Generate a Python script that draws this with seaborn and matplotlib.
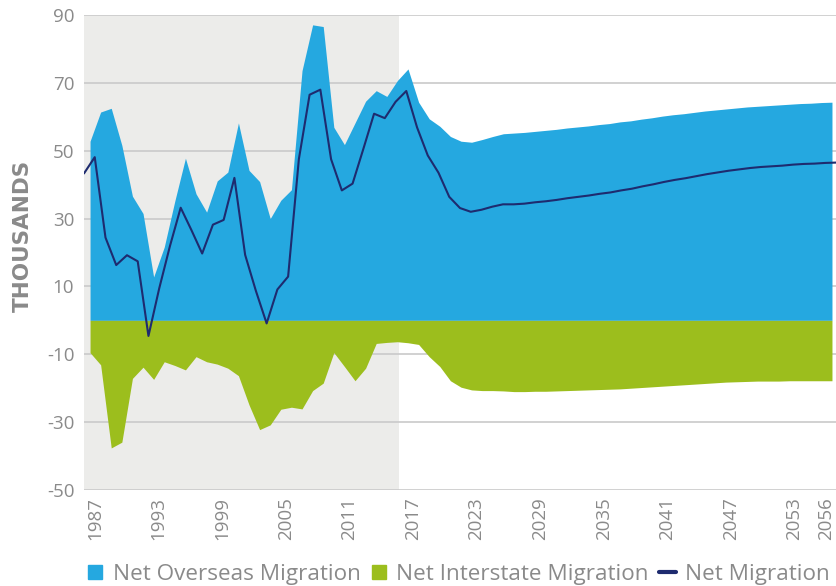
import matplotlib
matplotlib.use("Agg")
import matplotlib.pyplot as plt
import seaborn as sns
import pandas as pd
import numpy as np
from matplotlib.lines import Line2D

# ---------------- data (thousands) ----------------
years = list(range(1987, 2058))

overseas = [52.8, 61.4, 62.5, 51.6, 36.6, 31.5, 12.8, 21.6, 35.2, 47.8,
            37.3, 31.9, 41.1, 43.7, 58.2, 44.2, 40.9, 30.0, 35.4, 38.5,
            73.6, 87.1, 86.6, 56.9, 51.8, 58.2, 64.6, 67.7, 66.0, 70.7,
            74.1, 64.3, 59.4, 57.2, 54.2, 52.8,
            52.5, 53.3, 54.2, 55.0, 55.2, 55.4, 55.7, 56.0, 56.3, 56.7,
            57.0, 57.3, 57.7, 58.0, 58.5, 58.8, 59.3, 59.7, 60.2, 60.6,
            60.9, 61.3, 61.7, 62.0, 62.3, 62.6, 62.9, 63.1, 63.3, 63.5,
            63.7, 63.9, 64.0, 64.2, 64.3]

interstate = [-9.5, -13.1, -37.6, -35.9, -17.1, -13.8, -17.4, -12.2, -13.3, -14.6,
              -10.7, -12.2, -12.9, -14.1, -16.3, -24.9, -32.2, -30.8, -26.2, -25.6,
              -26.1, -20.7, -18.5, -9.5, -13.6, -17.8, -14.1, -6.8, -6.5, -6.3,
              -6.6, -7.1, -10.7, -13.6, -17.8, -19.7,
              -20.5, -20.7, -20.7, -20.8, -21.0, -21.0, -20.9, -20.9, -20.8, -20.7,
              -20.6, -20.5, -20.4, -20.3, -20.2, -20.0, -19.8, -19.6, -19.4, -19.2,
              -19.0, -18.8, -18.6, -18.4, -18.2, -18.1, -18.0, -17.9, -17.9, -17.9,
              -17.8, -17.8, -17.8, -17.8, -17.8]

net = [43.3, 48.1, 24.4, 16.3, 19.2, 17.4, -4.6, 9.4, 21.9, 33.2,
       26.6, 19.7, 28.2, 29.6, 42.0, 19.3, 8.7, -0.9, 9.1, 12.9,
       47.5, 66.5, 68.0, 47.5, 38.3, 40.3, 50.5, 60.9, 59.6, 64.4,
       67.6, 56.9, 48.6, 43.5, 36.4, 33.1,
       32.0, 32.6, 33.5, 34.2, 34.2, 34.4, 34.8, 35.1, 35.5, 36.0,
       36.4, 36.8, 37.3, 37.7, 38.3, 38.8, 39.5, 40.1, 40.8, 41.4,
       41.9, 42.5, 43.1, 43.6, 44.1, 44.5, 44.9, 45.2, 45.4, 45.6,
       45.9, 46.1, 46.2, 46.4, 46.5]

tick_years = [1987, 1993, 1999, 2005, 2011, 2017, 2023, 2029, 2035, 2041, 2047, 2053, 2056]
tick_labels = [str(y) for y in tick_years]
y_ticks = [-50, -30, -10, 10, 30, 50, 70, 90]
series_labels = ["Net Overseas Migration", "Net Interstate Migration", "Net Migration"]
historical_end = 2016.15

# ---------------- style ----------------
BLUE = "#25A8E0"
GREEN = "#9CBE1D"
NAVY = "#1E2B6F"
SHADE = "#ECECEA"
GRID = "#CACACA"
GRAY = "#8A8A8A"

sns.set_theme(style="white")
plt.rcParams['font.family'] = ['Open Sans', 'DejaVu Sans']

fig = plt.figure(figsize=(8.36, 5.86), dpi=100)
ax = fig.add_axes([84 / 836, 1 - 490 / 586, 752 / 836, 475 / 586])

x = np.array(years, dtype=float)
xmin, xmax = 1986.43, 2057.38

ax.axvspan(xmin, historical_end, color=SHADE, lw=0, zorder=0)
ax.fill_between(x, 0, overseas, color=BLUE, lw=0, zorder=2)
ax.fill_between(x, interstate, 0, color=GREEN, lw=0, zorder=2)

line_x = xmin + (x - x[0]) * (xmax - xmin) / (x[-1] - x[0])
df = pd.DataFrame({"x": line_x, "net": net})
sns.lineplot(data=df, x="x", y="net", color=NAVY, lw=1.5, ax=ax, zorder=3)

ax.set_xlim(xmin, xmax)
ax.set_ylim(-50, 90)
ax.set_yticks(y_ticks)
ax.set_yticklabels([str(v) for v in y_ticks])
ax.set_xticks([t + 0.47 for t in tick_years])
ax.set_xticklabels(tick_labels, rotation=90)
ax.yaxis.grid(True, color=GRID, lw=1.2)
ax.xaxis.grid(False)
ax.set_axisbelow(True)
for s in ax.spines.values():
    s.set_visible(False)

ax.tick_params(axis="x", length=0, pad=5, labelsize=13.5, labelcolor=GRAY)
ax.tick_params(axis="y", length=0, pad=7, labelsize=13.5, labelcolor=GRAY)
ax.set_xlabel("")
ax.set_ylabel("THOUSANDS", fontsize=15.5, color=GRAY, fontweight="bold",
              family=["DejaVu Sans"])
ax.yaxis.set_label_coords(-0.068, 0.535)

handles = [
    Line2D([], [], marker="s", ls="", color=BLUE, ms=10.5),
    Line2D([], [], marker="s", ls="", color=GREEN, ms=10.5),
    Line2D([], [], color=NAVY, lw=3),
]
fig.legend(handles, series_labels, loc="center", bbox_to_anchor=(0.548, 0.019),
           ncol=3, frameon=False, fontsize=16.2, handlelength=0.75,
           handletextpad=0.4, columnspacing=0.45, labelcolor=GRAY,
           borderaxespad=0, borderpad=0)

fig.savefig("out.png", dpi=100)
